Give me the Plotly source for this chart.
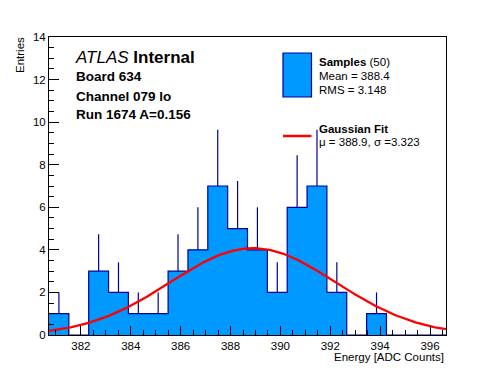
import numpy as np
import plotly.graph_objects as go

# ---- data ----
bin_low = 380.72
bin_width = 0.796
counts = [1, 0, 3, 2, 1, 1, 3, 4, 7, 5, 4, 2, 6, 7, 2, 0, 1, 0, 0, 0]
fit_mu = 388.9
fit_sigma = 3.323
fit_amp = 4.08
x_range = [380.72, 396.64]
y_range = [0, 14]

edges = [bin_low + i * bin_width for i in range(len(counts) + 1)]
centers = [bin_low + (i + 0.5) * bin_width for i in range(len(counts))]

W, H = 496, 372
L, R, T, B = 49, 50, 37, 37
pw, ph = W - L - R, H - T - B

def px(x):
    return (x - L) / pw

def py(y):
    return (H - B - y) / ph

FONT = "Liberation Sans, Arial, sans-serif"
FILL = "#0099ff"
EDGE = "#000099"

fig = go.Figure()

# histogram step fill
fig.add_trace(go.Scatter(
    x=edges, y=counts + [counts[-1]], mode="lines", line_shape="hv",
    fill="tozeroy", fillcolor=FILL, line=dict(color=EDGE, width=1.2),
    hoverinfo="skip", showlegend=False))

# error bars (upper part)
nz = [i for i, c in enumerate(counts) if c > 0]
fig.add_trace(go.Scatter(
    x=[centers[i] for i in nz], y=[counts[i] for i in nz], mode="markers",
    marker=dict(size=1, color=EDGE, opacity=0),
    error_y=dict(type="data", symmetric=False,
                 array=[np.sqrt(counts[i]) for i in nz],
                 arrayminus=[0] * len(nz), color=EDGE, thickness=1.2, width=0),
    hoverinfo="skip", showlegend=False))

# gaussian fit curve
xf = np.linspace(x_range[0], x_range[1], 300)
yf = fit_amp * np.exp(-0.5 * ((xf - fit_mu) / fit_sigma) ** 2)
fig.add_trace(go.Scatter(x=xf, y=yf, mode="lines",
                         line=dict(color="#ff0000", width=2.3),
                         hoverinfo="skip", showlegend=False))

axis_common = dict(
    showgrid=False, zeroline=False, showline=True, linecolor="black",
    linewidth=1, mirror=True, ticks="inside", tickcolor="black",
    tickwidth=1, tickfont=dict(family=FONT, size=11.5, color="black"),
)
fig.update_xaxes(range=x_range, dtick=2, tick0=382, ticklen=9,
                 minor=dict(dtick=0.5, ticklen=5, ticks="inside", tickcolor="black"),
                 **axis_common)
fig.update_yaxes(range=y_range, dtick=2, ticklen=10,
                 minor=dict(dtick=0.5, ticklen=5, ticks="inside", tickcolor="black"),
                 **axis_common)

ann = []
def text(x, y, t, size, xanchor="left", yanchor="middle", angle=0):
    ann.append(dict(x=px(x), y=py(y), xref="paper", yref="paper", text=t,
                    showarrow=False, xanchor=xanchor, yanchor=yanchor,
                    textangle=angle, font=dict(family=FONT, size=size, color="black")))

text(73, 57, "<i>ATLAS</i> <b>Internal</b>", 17)
text(74, 76, "<b>Board 634</b>", 13.5)
text(74, 96, "<b>Channel 079 lo</b>", 13.5)
text(74, 115, "<b>Run 1674 A=0.156</b>", 13.5)

text(317, 62, "<b>Samples</b> (50)", 11.5)
text(317, 76, "Mean = 388.4", 11.5)
text(317, 90, "RMS = 3.148", 11.5)
text(317, 129, "<b>Gaussian Fit</b>", 11.5)
text(317, 142, "μ = 388.9, σ =3.323", 11.5)

text(446, 357, "Energy [ADC Counts]", 11.5, xanchor="right")
text(20, 35, "Entries", 11.5, xanchor="center", yanchor="top", angle=-90)

shapes = [
    dict(type="rect", xref="paper", yref="paper", x0=px(283), x1=px(311.5),
         y0=py(97), y1=py(53), fillcolor=FILL, line=dict(color=EDGE, width=1.2)),
    dict(type="line", xref="paper", yref="paper", x0=px(283), x1=px(311.5),
         y0=py(136), y1=py(136), line=dict(color="#ff0000", width=2.5)),
]

fig.update_layout(
    width=W, height=H, margin=dict(l=L, r=R, t=T, b=B),
    paper_bgcolor="white", plot_bgcolor="white",
    annotations=ann, shapes=shapes, showlegend=False,
)

fig.write_html(
    "out.html",
    config={"displayModeBar": False, "staticPlot": True},
    post_script="document.body.style.margin='0';document.body.style.overflow='hidden';",
)
